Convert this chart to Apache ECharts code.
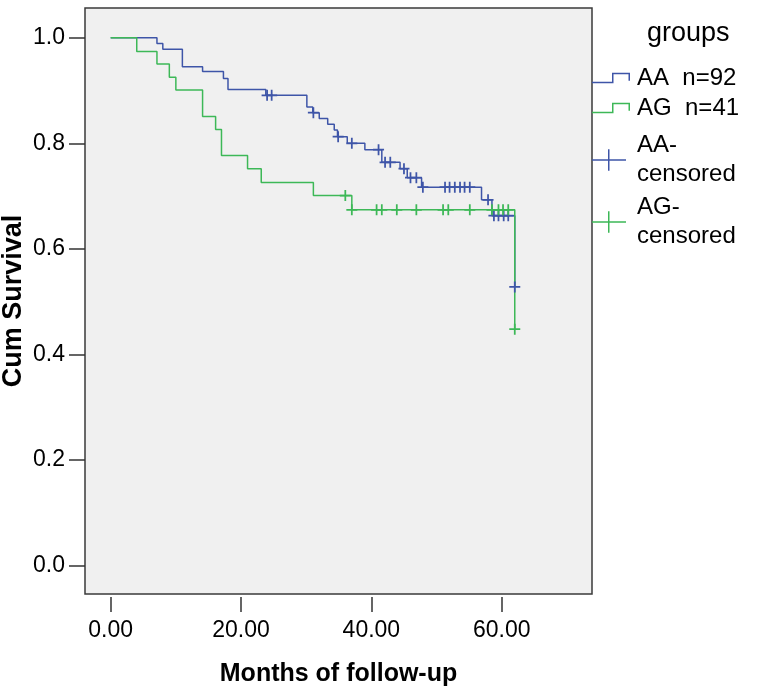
<!DOCTYPE html>
<html>
<head>
<meta charset="utf-8">
<script src="https://cdn.jsdelivr.net/npm/echarts@6/dist/echarts.min.js"></script>
<style>
html,body{margin:0;padding:0;background:#fff;}
#chart{width:759px;height:695px;}
</style>
</head>
<body>
<div id="chart"></div>
<script>
// ---- data ----
const xTicks = [0, 20, 40, 60];
const yTicks = [0, 0.2, 0.4, 0.6, 0.8, 1.0];

const aaTimes = [0, 7.1, 8.0, 11.0, 14.1, 17.3, 18.0, 23.8, 30.1, 31.0, 32.0, 33.3, 34.3, 34.8, 36.3, 39.0, 41.6, 44.4, 45.5, 47.7, 56.9, 58.5, 62.0];
const aaSurv  = [1.0, 0.989, 0.978, 0.945, 0.936, 0.923, 0.902, 0.891, 0.869, 0.858, 0.847, 0.836, 0.825, 0.8125, 0.80, 0.788, 0.764, 0.752, 0.735, 0.717, 0.693, 0.663, 0.528];

const aaCensorT = [24.0, 24.7, 31.1, 34.9, 37.0, 41.1, 42.1, 42.9, 45.0, 46.0, 46.9, 47.9, 51.3, 52.0, 52.8, 53.6, 54.3, 55.1, 57.9, 58.8, 59.5, 60.3, 61.0, 62.0];
const aaCensorS = [0.891, 0.891, 0.858, 0.8125, 0.80, 0.788, 0.764, 0.764, 0.752, 0.735, 0.735, 0.717, 0.717, 0.717, 0.717, 0.717, 0.717, 0.717, 0.693, 0.663, 0.663, 0.663, 0.663, 0.528];

const agTimes = [0, 4.0, 7.1, 9.0, 10.0, 14.1, 16.1, 17.0, 21.0, 23.1, 31.1, 37.0, 62.0];
const agSurv  = [1.0, 0.974, 0.950, 0.925, 0.901, 0.851, 0.826, 0.777, 0.752, 0.726, 0.701, 0.674, 0.448];

const agCensorT = [36.0, 37.0, 40.8, 41.6, 43.9, 46.9, 51.0, 51.8, 55.1, 58.5, 59.5, 60.2, 61.0, 62.0];
const agCensorS = [0.701, 0.674, 0.674, 0.674, 0.674, 0.674, 0.674, 0.674, 0.674, 0.674, 0.674, 0.674, 0.674, 0.448];

const seriesNames = ['AA  n=92', 'AG  n=41', 'AA-\ncensored', 'AG-\ncensored'];
const legendTitle = 'groups';
const xTitle = 'Months of follow-up';
const yTitle = 'Cum Survival';

// ---- build ----
const zip = (a, b) => a.map((v, i) => [v, b[i]]);
const BLUE = '#3E55A8';
const GREEN = '#3DB857';
const FONT = "'Liberation Sans', Arial, sans-serif";
const plusPath = 'path://M4.2,0H5.8V4.2H10V5.8H5.8V10H4.2V5.8H0V4.2H4.2Z';
const stepIcon = 'path://M0,9H20V0H38V8H36.5V1.5H21.5V10.5H0Z';
const plusIcon = 'path://M0,10H16V0H17.5V10H34V11.5H17.5V21.5H16V11.5H0Z';

const legendText = {fontFamily: FONT, fontSize: 24, color: '#000'};

const chart = echarts.init(document.getElementById('chart'), null, {renderer: 'canvas'});
chart.setOption({
  animation: false,
  backgroundColor: '#ffffff',
  title: {
    text: legendTitle, left: 647, top: 20, padding: 0,
    textStyle: {fontFamily: FONT, fontSize: 27, fontWeight: 'normal', color: '#000'}
  },
  legend: [
    {
      orient: 'vertical', left: 592, top: 65, itemGap: 4, padding: 0,
      itemWidth: 38, itemHeight: 11,
      textStyle: Object.assign({lineHeight: 26, padding: [0, 0, 0, 2]}, legendText),
      data: [
        {name: seriesNames[0], icon: stepIcon, itemStyle: {color: BLUE}},
        {name: seriesNames[1], icon: stepIcon, itemStyle: {color: GREEN}}
      ]
    },
    {
      orient: 'vertical', left: 592, top: 131, itemGap: 4, padding: 0,
      itemWidth: 34, itemHeight: 21.5,
      textStyle: Object.assign({lineHeight: 29, padding: [0, 0, 0, 6]}, legendText),
      data: [
        {name: seriesNames[2], icon: plusIcon, itemStyle: {color: BLUE}},
        {name: seriesNames[3], icon: plusIcon, itemStyle: {color: GREEN}}
      ]
    }
  ],
  grid: {
    left: 85, right: 167, top: 8, bottom: 101, show: true,
    outerBoundsMode: 'none', containLabel: false,
    backgroundColor: '#F0F0F0', borderColor: '#3a3a3a', borderWidth: 1.5
  },
  xAxis: {
    type: 'value', min: -3.94, max: 73.85, offset: 3,
    splitLine: {show: false},
    axisLine: {show: false, onZero: false},
    axisTick: {show: true, length: 15, customValues: xTicks, lineStyle: {color: '#333', width: 1.5}},
    axisLabel: {customValues: xTicks, margin: 22, formatter: v => v.toFixed(2),
      fontFamily: FONT, fontSize: 23, color: '#000'},
    name: xTitle, nameLocation: 'middle', nameGap: 65,
    nameTextStyle: {fontFamily: FONT, fontSize: 25, fontWeight: 'bold', color: '#000'}
  },
  yAxis: {
    type: 'value', min: -0.0536, max: 1.0563,
    splitLine: {show: false},
    axisLine: {show: false, onZero: false},
    axisTick: {show: true, length: 16, customValues: yTicks, lineStyle: {color: '#333', width: 1.5}},
    axisLabel: {customValues: yTicks, margin: 20, formatter: v => v.toFixed(1),
      fontFamily: FONT, fontSize: 23, color: '#000'},
    name: yTitle, nameLocation: 'middle', nameGap: 58, nameMoveOverlap: false,
    nameTextStyle: {fontFamily: FONT, fontSize: 27, fontWeight: 'bold', color: '#000'}
  },
  series: [
    {name: seriesNames[0], type: 'line', step: 'end', data: zip(aaTimes, aaSurv),
      showSymbol: false, lineStyle: {color: BLUE, width: 1.5}, itemStyle: {color: BLUE}, z: 2},
    {name: seriesNames[1], type: 'line', step: 'end', data: zip(agTimes, agSurv),
      showSymbol: false, lineStyle: {color: GREEN, width: 1.5}, itemStyle: {color: GREEN}, z: 3},
    {name: seriesNames[2], type: 'scatter', data: zip(aaCensorT, aaCensorS),
      symbol: plusPath, symbolSize: 11, itemStyle: {color: BLUE, opacity: 1}, z: 4},
    {name: seriesNames[3], type: 'scatter', data: zip(agCensorT, agCensorS),
      symbol: plusPath, symbolSize: 11, itemStyle: {color: GREEN, opacity: 1}, z: 5}
  ]
});
</script>
</body>
</html>
